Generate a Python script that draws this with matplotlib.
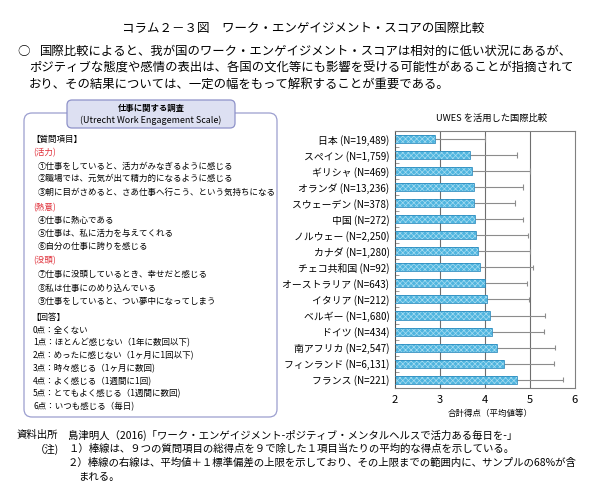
import matplotlib
matplotlib.use("Agg")
import matplotlib.pyplot as plt
from matplotlib.patches import FancyBboxPatch
from matplotlib.ticker import FixedLocator

plt.rcParams['font.family'] = ['Noto Sans CJK JP', 'DejaVu Sans']
plt.rcParams['hatch.linewidth'] = 0.5

# data
countries = ["日本 (N=19,489)", "スペイン (N=1,759)", "ギリシャ (N=469)", "オランダ (N=13,236)",
             "スウェーデン (N=378)", "中国 (N=272)", "ノルウェー (N=2,250)", "カナダ (N=1,280)",
             "チェコ共和国 (N=92)", "オーストラリア (N=643)", "イタリア (N=212)", "ベルギー (N=1,680)",
             "ドイツ (N=434)", "南アフリカ (N=2,547)", "フィンランド (N=6,131)", "フランス (N=221)"]
means = [2.89, 3.67, 3.70, 3.76, 3.75, 3.78, 3.81, 3.84, 3.89, 4.01, 4.04, 4.11, 4.15, 4.26, 4.42, 4.70]
uppers = [4.00, 4.70, 5.01, 4.85, 4.66, 4.85, 4.95, 4.99, 5.07, 4.93, 4.97, 5.33, 5.31, 5.56, 5.53, 5.73]
xticks = [2, 3, 4, 5, 6]

W, H = 602, 483
fig = plt.figure(figsize=(W / 100, H / 100), dpi=100)


def txt(x, y, s, **kw):
    kw.setdefault('va', 'center')
    fig.text(x / W, 1 - y / H, s, **kw)


# title and lead paragraph
txt(303, 28, "コラム２－３図　ワーク・エンゲイジメント・スコアの国際比較", ha='center', fontsize=9)
txt(17, 51, "○", fontsize=9)
txt(40, 51, "国際比較によると、我が国のワーク・エンゲイジメント・スコアは相対的に低い状況にあるが、", fontsize=8.9)
txt(29, 68, "ポジティブな態度や感情の表出は、各国の文化等にも影響を受ける可能性があることが指摘されて", fontsize=8.9)
txt(29, 84, "おり、その結果については、一定の幅をもって解釈することが重要である。", fontsize=8.9)

# left box
inch = fig.dpi_scale_trans
outer = FancyBboxPatch((24 / 100, (H - 417) / 100), (277 - 24) / 100, (417 - 113) / 100,
                       boxstyle="round,pad=0,rounding_size=0.08", transform=inch,
                       fc='white', ec='#9b9ecf', lw=0.9)
fig.patches.append(outer)
head = FancyBboxPatch((67 / 100, (H - 128) / 100), (235 - 67) / 100, (128 - 100) / 100,
                      boxstyle="round,pad=0,rounding_size=0.05", transform=inch,
                      fc='#dde0f2', ec='#8e92c9', lw=0.9, zorder=3)
fig.patches.append(head)
txt(151, 108, "仕事に関する調査", ha='center', fontsize=6, fontweight='bold', zorder=4)
txt(151, 120, "(Utrecht Work Engagement Scale)", ha='center', fontsize=6.4, zorder=4)

red = '#e0303a'
fs = 6.1
txt(31, 139, "【質問項目】", fontsize=fs)
txt(33, 153, "(活力)", fontsize=fs, color=red)
txt(38, 166, "①仕事をしていると、活力がみなぎるように感じる", fontsize=fs)
txt(38, 178, "②職場では、元気が出て精力的になるように感じる", fontsize=fs)
txt(38, 192, "③朝に目がさめると、さあ仕事へ行こう、という気持ちになる", fontsize=fs)
txt(33, 208, "(熱意)", fontsize=fs, color=red)
txt(38, 221, "④仕事に熱心である", fontsize=fs)
txt(38, 233, "⑤仕事は、私に活力を与えてくれる", fontsize=fs)
txt(38, 246, "⑥自分の仕事に誇りを感じる", fontsize=fs)
txt(33, 261, "(没頭)", fontsize=fs, color=red)
txt(38, 275, "⑦仕事に没頭しているとき、幸せだと感じる", fontsize=fs)
txt(38, 288, "⑧私は仕事にのめり込んでいる", fontsize=fs)
txt(38, 301, "⑨仕事をしていると、つい夢中になってしまう", fontsize=fs)
txt(31, 317, "【回答】", fontsize=fs)
answers = ["0点：全くない", "1点：ほとんど感じない（1年に数回以下)", "2点：めったに感じない（1ヶ月に1回以下)",
           "3点：時々感じる（1ヶ月に数回)", "4点：よく感じる（1週間に1回)",
           "5点：とてもよく感じる（1週間に数回)", "6点：いつも感じる（毎日)"]
for i, a in enumerate(answers):
    txt(33, 330 + i * 12.8, a, fontsize=fs)

# bar chart
ax = fig.add_axes([395 / W, 1 - 387.7 / H, 180 / W, (387.7 - 131) / H])
y = list(range(len(countries)))
ax.barh(y, means, height=0.5, color='#4fb5df', hatch='xxxxxx', edgecolor='#a6dcf1', lw=0, zorder=2)
ax.barh(y, means, height=0.5, fill=False, edgecolor='#2e8dbf', lw=0.6, zorder=3)
ax.hlines(y, means, uppers, color='#8c8c8c', lw=0.8, zorder=1)
ax.vlines(uppers, [v - 0.17 for v in y], [v + 0.17 for v in y], color='#8c8c8c', lw=0.8, zorder=1)

ax.set_xlim(2, 6)
ax.set_ylim(len(countries) - 0.5, -0.5)
ax.set_xticks(xticks)
ax.set_yticks(y)
ax.set_yticklabels(countries, fontsize=7.1)
ax.yaxis.set_minor_locator(FixedLocator([v + 0.5 for v in y]))
ax.tick_params(axis='y', which='major', length=0, pad=4)
ax.tick_params(axis='y', which='minor', direction='in', length=3, color='#888888', width=0.6)
ax.tick_params(axis='x', length=0, labelsize=8, pad=5)
for v in [3, 4, 5]:
    ax.axvline(v, color='#6e6e6e', lw=0.8, zorder=0)
for s in ax.spines.values():
    s.set_color('#808080')
    s.set_linewidth(0.8)
ax.spines['left'].set_color('#555555')

txt(491, 118, "UWES を活用した国際比較", ha='center', fontsize=6.7)
txt(490, 413, "合計得点（平均値等）", ha='center', fontsize=6.1)

# footer
ff = 7.5
txt(17, 435, "資料出所", fontsize=ff)
txt(68, 435, "島津明人（2016)「ワーク・エンゲイジメント-ポジティブ・メンタルヘルスで活力ある毎日を-」", fontsize=ff)
txt(35, 449, "（注)", fontsize=ff)
txt(68, 449, "１）棒線は、９つの質問項目の総得点を９で除した１項目当たりの平均的な得点を示している。", fontsize=ff)
txt(68, 463, "２）棒線の右線は、平均値＋１標準偏差の上限を示しており、その上限までの範囲内に、サンプルの68%が含", fontsize=ff)
txt(78, 477, "まれる。", fontsize=ff)

fig.savefig("out.png", dpi=100)
